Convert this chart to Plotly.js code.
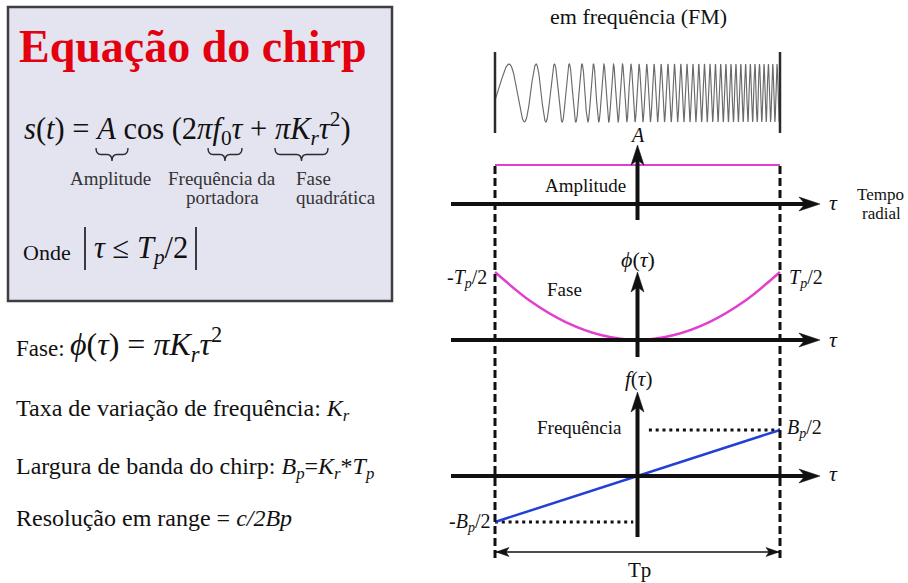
<!DOCTYPE html>
<html>
<head>
<meta charset="utf-8">
<script src="https://cdn.plot.ly/plotly-3.0.1.min.js"></script>
<style>
  html, body { margin: 0; padding: 0; background: #ffffff; }
  #chart { width: 908px; height: 583px; }
</style>
</head>
<body>
<div id="chart"></div>
<script>
// ---- values drawn in the diagram ----
// pulse limits (units of Tp/2)
const pulseTau = [-1, 1];
// amplitude envelope A over the pulse
const amplitudeVal = [1, 1];
// quadratic phase φ(τ), normalised to its value at ±Tp/2
const phaseTau = [-1, -0.75, -0.5, -0.25, 0, 0.25, 0.5, 0.75, 1];
const phaseVal = [1, 0.57, 0.26, 0.07, 0, 0.07, 0.26, 0.57, 1];
// instantaneous frequency f(τ), in units of Bp/2
const freqTau = [-1, 1];
const freqVal = [-1, 1];
// Bp/2 and -Bp/2 guide lines (τ extent, level)
const bpHighTau = [0.08, 1];
const bpHighVal = [1, 1];
const bpLowTau = [-1, -0.03];
const bpLowVal = [-1, -1];
// chirp waveform parameters: carrier f0, chirp rate Kr, start phase
const chirpA = 1;
const chirpF0 = 18;
const chirpKr = 15.8;
const chirpPhi0 = -1.2;
const chirpSamples = 4000;

// ---- geometry helpers ----
const W = 908, H = 583;
const tauPx = 142.5, tauZeroPx = 637.5;
const T = x => (x - tauZeroPx) / tauPx;        // pixel column -> τ
const X = x => x / W;                            // pixel -> paper x
const Y = y => 1 - y / H;                        // pixel -> paper y

// each panel: pixel row of its zero line and pixels per unit
const panels = {
  wave:  { base: 93,  scale: 29 },
  amp:   { base: 204, scale: 39 },
  phase: { base: 340, scale: 68 },
  freq:  { base: 476, scale: 46 }
};
const yRange = p => [(p.base - H) / p.scale, p.base / p.scale];
const V = (p, y) => (p.base - y) / p.scale;      // pixel row -> panel value

// chirp pulse s(τ) = A cos(2π f0 τ + π Kr τ² + φ0)
const chirpTau = [], chirpVal = [];
for (let i = 0; i <= chirpSamples; i++) {
  const t = pulseTau[0] + (pulseTau[1] - pulseTau[0]) * i / chirpSamples;
  chirpTau.push(t);
  chirpVal.push(chirpA * Math.cos(2 * Math.PI * chirpF0 * t + Math.PI * chirpKr * t * t + chirpPhi0));
}

const pink = '#e23fcf';
const blue = '#2140d4';
const ink = '#111111';
const serif = "'Liberation Serif', 'Times New Roman', serif";

const traces = [
  { x: chirpTau, y: chirpVal, yaxis: 'y', mode: 'lines',
    line: { color: '#6a6a6a', width: 1.15 }, hoverinfo: 'skip' },
  { x: pulseTau, y: amplitudeVal, yaxis: 'y2', mode: 'lines',
    line: { color: pink, width: 2 }, hoverinfo: 'skip' },
  { x: phaseTau, y: phaseVal, yaxis: 'y3', mode: 'lines',
    line: { color: pink, width: 2.5, shape: 'spline', smoothing: 1 }, hoverinfo: 'skip' },
  { x: bpHighTau, y: bpHighVal, yaxis: 'y4', mode: 'lines',
    line: { color: ink, width: 3, dash: '3px,3.8px' }, hoverinfo: 'skip' },
  { x: bpLowTau, y: bpLowVal, yaxis: 'y4', mode: 'lines',
    line: { color: ink, width: 3, dash: '3px,3.8px' }, hoverinfo: 'skip' },
  { x: freqTau, y: freqVal, yaxis: 'y4', mode: 'lines',
    line: { color: blue, width: 2.5 }, hoverinfo: 'skip' }
];

// ---- shapes ----
const shapes = [];
const pxPath = pts => 'M ' + pts.map(p => X(p[0]) + ',' + Y(p[1])).join(' L ') + ' Z';

// equation panel
shapes.push({ type: 'rect', xref: 'paper', yref: 'paper', layer: 'below',
  x0: X(8), x1: X(392), y0: Y(7), y1: Y(301),
  fillcolor: '#e4e4f1', line: { color: '#3d3d45', width: 2.5 } });

// underbraces in the equation
function brace(x0, x1, top) {
  const h = 13, mid = top + h * 0.5, xm = (x0 + x1) / 2, r = 5;
  const pts = [
    ['M', x0, top], ['Q', x0, mid, x0 + r, mid], ['L', xm - r, mid],
    ['Q', xm, mid, xm, top + h], ['Q', xm, mid, xm + r, mid],
    ['L', x1 - r, mid], ['Q', x1, mid, x1, top]
  ];
  const path = pts.map(s => {
    const c = s.slice(1);
    let out = s[0];
    for (let i = 0; i < c.length; i += 2) out += ' ' + X(c[i]) + ',' + Y(c[i + 1]);
    return out;
  }).join(' ');
  shapes.push({ type: 'path', xref: 'paper', yref: 'paper', path: path,
    line: { color: '#2a2a2a', width: 1.4 } });
}
brace(96, 128, 148);
brace(208, 242, 148);
brace(275, 328, 148);

// tall bars around |τ ≤ Tp/2|
[85, 196].forEach(x => shapes.push({ type: 'line', xref: 'paper', yref: 'paper',
  x0: X(x), x1: X(x), y0: Y(227), y1: Y(270), line: { color: ink, width: 1.6 } }));

// pulse edges on the waveform
[-1, 1].forEach(t => shapes.push({ type: 'line', xref: 'x', yref: 'y',
  x0: t, x1: t, y0: V(panels.wave, 52), y1: V(panels.wave, 133),
  line: { color: '#2b2b2b', width: 2.5 } }));

// dashed pulse limits through the three panels
[-1, 1].forEach(t => shapes.push({ type: 'line', xref: 'x', yref: 'paper',
  x0: t, x1: t, y0: Y(166), y1: Y(558),
  line: { color: ink, width: 3, dash: '8px,4px' } }));

// horizontal τ axes with arrowheads
const axisLeft = 451, axisTip = 820;
[['amp', 'y2'], ['phase', 'y3'], ['freq', 'y4']].forEach(([k, ref]) => {
  const p = panels[k];
  shapes.push({ type: 'line', xref: 'x', yref: ref,
    x0: T(axisLeft), x1: T(axisTip - 12), y0: 0, y1: 0, line: { color: ink, width: 4 } });
  const b = p.base;
  shapes.push({ type: 'path', xref: 'paper', yref: 'paper', fillcolor: ink,
    line: { color: ink, width: 0.5 },
    path: pxPath([[axisTip, b], [axisTip - 21, b - 7], [axisTip - 15, b], [axisTip - 21, b + 7]]) });
});

// vertical axes with arrowheads
const vAxes = [
  ['amp', 'y2', 220, 145],
  ['phase', 'y3', 357, 272],
  ['freq', 'y4', 537, 392]
];
vAxes.forEach(([k, ref, bottom, tip]) => {
  const p = panels[k];
  shapes.push({ type: 'line', xref: 'x', yref: ref, x0: 0, x1: 0,
    y0: V(p, bottom), y1: V(p, tip + 12), line: { color: ink, width: 4 } });
  const c = tauZeroPx;
  shapes.push({ type: 'path', xref: 'paper', yref: 'paper', fillcolor: ink,
    line: { color: ink, width: 0.5 },
    path: pxPath([[c, tip], [c - 6.5, tip + 20], [c, tip + 15], [c + 6.5, tip + 20]]) });
});

// Tp double arrow
const tpY = 552;
shapes.push({ type: 'line', xref: 'x', yref: 'paper', x0: -1, x1: 1,
  y0: Y(tpY), y1: Y(tpY), line: { color: ink, width: 1.6 } });
shapes.push({ type: 'path', xref: 'paper', yref: 'paper', fillcolor: ink, line: { color: ink, width: 0.5 },
  path: pxPath([[496, tpY], [509, tpY - 4.5], [506, tpY], [509, tpY + 4.5]]) });
shapes.push({ type: 'path', xref: 'paper', yref: 'paper', fillcolor: ink, line: { color: ink, width: 0.5 },
  path: pxPath([[779, tpY], [766, tpY - 4.5], [769, tpY], [766, tpY + 4.5]]) });

// ---- text ----
const ann = [];
function txt(x, y, text, size, opts) {
  ann.push(Object.assign({
    xref: 'paper', yref: 'paper', x: X(x), y: Y(y), text: text, showarrow: false,
    xanchor: 'center', yanchor: 'middle',
    font: { family: serif, size: size, color: ink }
  }, opts || {}));
}

// equation panel
txt(193, 47, '<b>Equação do chirp</b>', 46, { font: { family: serif, size: 46, color: '#e3000f' } });
txt(22, 128, '<i>s</i>(<i>t</i>) = <i>A</i> cos (2<i>πf</i><sub>0</sub><i>τ</i> + <i>πK</i><sub><i>r</i></sub><i>τ</i><sup>2</sup>)', 30.5, { xanchor: 'left' });
const sub = { family: serif, size: 19, color: '#333333' };
txt(110, 178, 'Amplitude', 19, { font: sub });
txt(222, 178, 'Frequência da', 19, { font: sub });
txt(222, 197, 'portadora', 19, { font: sub });
txt(294, 178, 'Fase', 19, { font: sub, xanchor: 'left' });
txt(294, 197, 'quadrática', 19, { font: sub, xanchor: 'left' });
txt(21, 252, 'Onde', 22, { xanchor: 'left' });
txt(92, 250, '<i>τ</i> ≤ <i>T</i><sub><i>p</i></sub>/2', 30.5, { xanchor: 'left' });

// notes below the panel
txt(14, 348, 'Fase:', 23, { xanchor: 'left' });
txt(68, 344, '<i>ϕ</i>(<i>τ</i>) = <i>πK</i><sub><i>r</i></sub><i>τ</i><sup>2</sup>', 32, { xanchor: 'left' });
txt(14, 410, 'Taxa de variação de frequência: <i>K</i><sub><i>r</i></sub>', 24, { xanchor: 'left' });
txt(14, 468, 'Largura de banda do chirp: <i>B</i><sub><i>p</i></sub>=<i>K</i><sub><i>r</i></sub>*<i>T</i><sub><i>p</i></sub>', 24, { xanchor: 'left' });
txt(14, 518, 'Resolução em range = <i>c/2Bp</i>', 24, { xanchor: 'left' });

// diagram labels
txt(638, 16, 'em frequência (FM)', 22);
txt(637, 135, '<i>A</i>', 20);
txt(585, 185, 'Amplitude', 19);
txt(833, 202, '<i>τ</i>', 22);
txt(880, 195, 'Tempo', 17);
txt(881, 214, 'radial', 17);
txt(638, 259, '<i>ϕ</i>(<i>τ</i>)', 22);
txt(489, 278, '-<i>T</i><sub><i>p</i></sub>/2', 20, { xanchor: 'right' });
txt(787, 278, '<i>T</i><sub><i>p</i></sub>/2', 20, { xanchor: 'left' });
txt(564, 289, 'Fase', 19);
txt(833, 339, '<i>τ</i>', 22);
txt(638, 379, '<i>f</i>(<i>τ</i>)', 21);
txt(579, 427, 'Frequência', 19);
txt(785, 429, '<i>B</i><sub><i>p</i></sub>/2', 20, { xanchor: 'left' });
txt(833, 473, '<i>τ</i>', 22);
txt(492, 522, '-<i>B</i><sub><i>p</i></sub>/2', 20, { xanchor: 'right' });
txt(639, 570, 'Tp', 21);

const hidden = { visible: false, fixedrange: true };
const layout = {
  width: W, height: H,
  margin: { l: 0, r: 0, t: 0, b: 0 },
  paper_bgcolor: '#ffffff', plot_bgcolor: 'rgba(0,0,0,0)',
  showlegend: false, hovermode: false,
  xaxis: Object.assign({ range: [T(0), T(W)], domain: [0, 1] }, hidden),
  yaxis: Object.assign({ range: yRange(panels.wave), domain: [0, 1] }, hidden),
  yaxis2: Object.assign({ range: yRange(panels.amp), overlaying: 'y' }, hidden),
  yaxis3: Object.assign({ range: yRange(panels.phase), overlaying: 'y' }, hidden),
  yaxis4: Object.assign({ range: yRange(panels.freq), overlaying: 'y' }, hidden),
  shapes: shapes,
  annotations: ann
};

Plotly.newPlot('chart', traces, layout, { staticPlot: true, displayModeBar: false });
</script>
</body>
</html>
